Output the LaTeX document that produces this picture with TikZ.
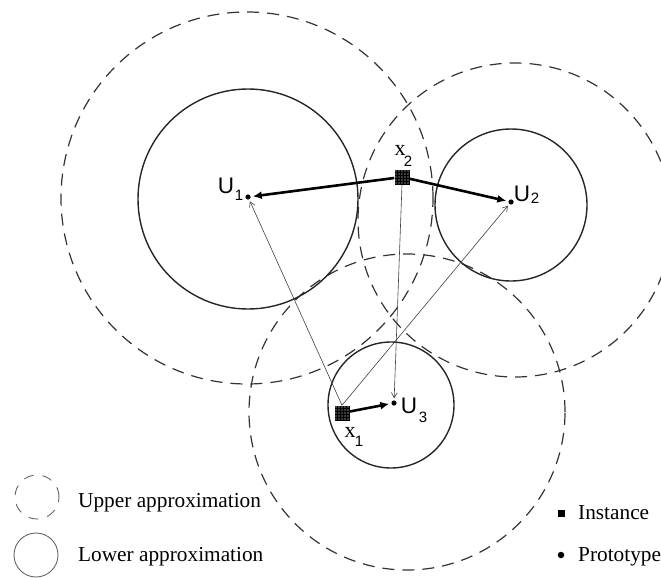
\documentclass[tikz,border=0pt]{standalone}
\usepackage{fontspec}
\setmainfont{Liberation Serif}
\setsansfont{Liberation Sans}
\usetikzlibrary{arrows.meta}
\begin{document}
\begin{tikzpicture}[x=1pt,y=-1pt,
 lower/.style={draw=black!85,line width=1.4pt},
 upper/.style={draw=black!80,line width=1.2pt,dash pattern=on 12pt off 8pt},
 proto/.style={circle,fill=black,inner sep=0pt,minimum size=5.2pt},
 inst/.style={rectangle,fill=black,inner sep=0pt,minimum size=15pt,
   path picture={\foreach \i in {-6,-3,0,3,6}{\foreach \j in {-6,-3,0,3,6}{
     \fill[white] ([shift={(\i pt,\j pt)}]path picture bounding box.center) circle (0.55pt);}}}},
 thickarrow/.style={line width=2.6pt,-{Latex[length=9pt,width=8pt]},shorten >=2pt},
 thinarrow/.style={line width=0.6pt,draw=black!75,-{Straight Barb[length=5pt,width=6pt]},shorten >=2pt},
 ulab/.style={font=\sffamily\fontsize{22.5}{22.5}\selectfont,inner sep=0pt},
 sublab/.style={font=\sffamily\fontsize{15}{15}\selectfont,inner sep=0pt},
 xlab/.style={font=\fontsize{22}{22}\selectfont,inner sep=0pt},
 legtext/.style={font=\fontsize{21.3}{21.3}\selectfont,inner sep=0pt,anchor=base west}
]
\useasboundingbox (0,0) rectangle (661,578);
% approximations
\draw[upper] (247,198) circle (186pt);
\draw[upper] (515,220) circle (157pt);
\draw[upper] (407,412) circle (158pt);
\draw[lower] (248,199) circle (110pt);
\draw[lower] (511,205) circle (76pt);
\draw[lower] (391,405) circle (63pt);
% prototypes and instances
\node[proto] (u1) at (248,197) {};
\node[proto] (u2) at (511,202) {};
\node[proto] (u3) at (394,403) {};
\node[inst] (x2) at (402,177) {};
\node[inst] (x1) at (342,413) {};
% labels
\node[ulab] (u1l) at (226,186) {U};
\node[sublab] (u1s) at (239,195) {1};
\node[ulab] (u2l) at (522,194) {U};
\node[sublab] (u2s) at (535,198) {2};
\node[ulab] (u3l) at (409,406) {U};
\node[sublab] (u3s) at (423,417) {3};
\node[xlab] (x2l) at (400,150) {x};
\node[sublab] (x2s) at (408,161) {2};
\node[xlab] (x1l) at (350,432) {x};
\node[sublab] (x1s) at (359,441) {1};
% connectors
\draw[thinarrow] (x1.north) -- (u1);
\draw[thinarrow] (x1.north) -- (u2);
\draw[thinarrow] (x2.south) -- (u3);
\draw[thickarrow] (x2) -- (u1);
\draw[thickarrow] (x2) -- (u2);
\draw[thickarrow] (x1) -- (u3);
% legend
\node[circle,draw=black!60,line width=0.9pt,dash pattern=on 10pt off 9pt,minimum size=44pt,inner sep=0pt] (legU) at (37,497) {};
\node[circle,draw=black!60,line width=0.9pt,minimum size=44pt,inner sep=0pt] (legL) at (36,555) {};
\node[legtext] (legUt) at (78,507) {Upper approximation};
\node[legtext] (legLt) at (78,561) {Lower approximation};
\node[rectangle,fill=black,inner sep=0pt,minimum size=7pt] (legI) at (561,513) {};
\node[legtext] (legIt) at (578,519) {Instance};
\node[circle,fill=black,inner sep=0pt,minimum size=6.5pt] (legP) at (561,555) {};
\node[legtext] (legPt) at (578,561) {Prototype};
\end{tikzpicture}
\end{document}
